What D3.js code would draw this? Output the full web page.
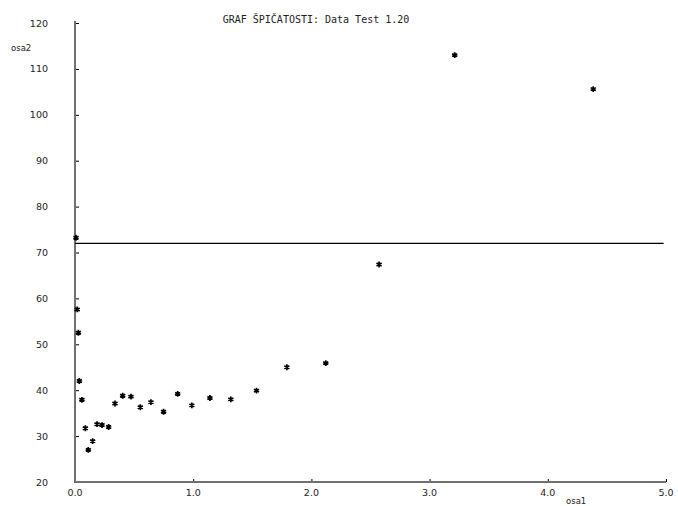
<!DOCTYPE html>
<html>
<head>
<meta charset="utf-8">
<script src="https://cdn.jsdelivr.net/npm/d3@7"></script>
<style>
  body { margin: 0; background: #fff; }
  svg { display: block; }
  text { font-family: "DejaVu Sans", sans-serif; fill: #222; }
  text.title { font-family: "DejaVu Sans Mono", monospace; }
</style>
</head>
<body>
<svg id="chart" width="678" height="506"></svg>
<script>
const TITLE = "GRAF ŠPIČATOSTI: Data Test 1.20";
const X_LABEL = "osa1";
const Y_LABEL = "osa2";

const xValues = [0.00, 0.01, 0.02, 0.028, 0.05, 0.079, 0.104, 0.141, 0.178, 0.22, 0.276,
  0.33, 0.395, 0.465, 0.544, 0.634, 0.741, 0.86, 0.98, 1.133, 1.31, 1.527, 1.784, 2.113,
  2.564, 3.204, 4.376];
const yValues = [73.2, 57.6, 52.5, 42.0, 37.9, 31.7, 27.0, 28.9, 32.6, 32.4, 32.0,
  37.1, 38.8, 38.6, 36.3, 37.4, 35.3, 39.2, 36.7, 38.3, 38.0, 39.9, 45.0, 45.9,
  67.4, 113.0, 105.6];
const referenceLevel = 72.0;

const xTicks = [0, 1, 2, 3, 4, 5];
const yTicks = [20, 30, 40, 50, 60, 70, 80, 90, 100, 110, 120];

const svg = d3.select("#chart");
const plotLeft = 75, plotRight = 666, plotTop = 23, plotBottom = 482;

const x = d3.scaleLinear().domain([0, 5]).range([plotLeft, plotRight]);
const y = d3.scaleLinear().domain([20, 120]).range([plotBottom, plotTop]);

// title
svg.append("text")
  .attr("class", "title")
  .attr("x", 316)
  .attr("y", 23)
  .attr("text-anchor", "middle")
  .attr("font-size", 10)
  .text(TITLE);

// y axis
const yAxis = svg.append("g")
  .attr("transform", `translate(${plotLeft},0)`)
  .call(d3.axisRight(y).tickValues(yTicks).tickSize(4).tickFormat(""));
yAxis.select(".domain").remove();
yAxis.selectAll(".tick line").attr("stroke", "#000");

svg.selectAll("text.ylab")
  .data(yTicks)
  .join("text")
  .attr("class", "ylab")
  .attr("x", 48)
  .attr("y", (d) => y(d) + 3.5)
  .attr("text-anchor", "end")
  .attr("font-size", 9.5)
  .text((d) => d);

// x axis
const xAxis = svg.append("g")
  .attr("transform", `translate(0,${plotBottom})`)
  .call(d3.axisTop(x).tickValues(xTicks).tickSize(3).tickFormat(""));
xAxis.select(".domain").remove();
xAxis.selectAll(".tick line").attr("stroke", "#000");

svg.selectAll("text.xlab")
  .data(xTicks)
  .join("text")
  .attr("class", "xlab")
  .attr("x", (d) => x(d))
  .attr("y", 496)
  .attr("text-anchor", "middle")
  .attr("font-size", 9.5)
  .text((d) => d3.format(".1f")(d));

// axis lines
svg.append("line")
  .attr("x1", plotLeft).attr("x2", plotLeft)
  .attr("y1", plotTop - 2).attr("y2", plotBottom + 1)
  .attr("stroke", "#707070")
  .attr("stroke-width", 2);

svg.append("line")
  .attr("x1", plotLeft).attr("x2", plotRight)
  .attr("y1", plotBottom).attr("y2", plotBottom)
  .attr("stroke", "#707070")
  .attr("stroke-width", 2);

svg.append("text")
  .attr("x", 11)
  .attr("y", 51)
  .attr("font-size", 8.5)
  .text(Y_LABEL);

svg.append("text")
  .attr("x", 566)
  .attr("y", 504)
  .attr("font-size", 8.5)
  .text(X_LABEL);

// reference line
svg.append("line")
  .attr("x1", plotLeft).attr("x2", x(4.98))
  .attr("y1", y(referenceLevel)).attr("y2", y(referenceLevel))
  .attr("stroke", "#000")
  .attr("stroke-width", 1.2);

// points
const star = d3.symbol().type(d3.symbolAsterisk).size(24);
svg.selectAll("path.pt")
  .data(xValues.map((v, i) => ({ x: v, y: yValues[i] })))
  .join("path")
  .attr("class", "pt")
  .attr("transform", (d) => `translate(${x(d.x) + 1},${y(d.y)})`)
  .attr("d", star)
  .attr("fill", "none")
  .attr("stroke", "#000")
  .attr("stroke-width", 1.7);
</script>
</body>
</html>
